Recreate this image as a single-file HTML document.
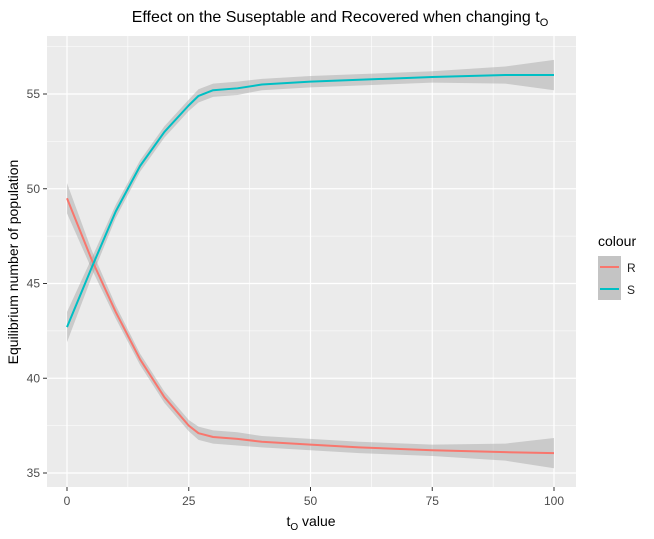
<!DOCTYPE html>
<html><head><meta charset="utf-8"><style>
body{margin:0;background:#fff;}
svg{display:block;font-family:"Liberation Sans",Arial,sans-serif;}
</style></head><body>
<svg id="chart" width="654" height="539">
<text x="340" y="22" font-size="16" text-anchor="middle" fill="#000">Effect on the Suseptable and Recovered when changing t<tspan font-size="11" dy="4">O</tspan></text>
<rect x="47" y="36" width="529" height="451" fill="#EBEBEB"/>
<g id="grid"></g><g id="ribbons"></g><g id="lines"></g><g id="axes"></g>
<text x="311" y="526" font-size="14" text-anchor="middle">t<tspan font-size="10" dy="4">O</tspan><tspan dy="-4"> value</tspan></text>
<text transform="translate(18,262) rotate(-90)" font-size="14" text-anchor="middle">Equilibrium number of population</text>
<g>
<text x="598" y="246" font-size="14">colour</text>
<g><rect x="598" y="256" width="23" height="22" fill="#C4C4C4"/><line x1="600" x2="619" y1="267" y2="267" stroke="#F8766D" stroke-width="2"/><text x="627" y="272" font-size="12" fill="#222">R</text></g>
<g><rect x="598" y="278" width="23" height="22" fill="#C4C4C4"/><line x1="600" x2="619" y1="289" y2="289" stroke="#00BFC4" stroke-width="2"/><text x="627" y="294" font-size="12" fill="#222">S</text></g>
</g>
</svg>
<script>
const xs=[0,5,10,15,20,25,27,30,35,40,50,60,75,90,100];
const sVals=[42.7,45.8,48.8,51.2,53,54.4,54.9,55.2,55.3,55.5,55.65,55.75,55.9,56,56];
const rVals=[49.5,46.3,43.5,41,39,37.5,37.1,36.9,36.8,36.65,36.5,36.35,36.2,36.1,36.05];
const seHalf=[0.8,0.5,0.35,0.3,0.3,0.3,0.35,0.35,0.35,0.3,0.3,0.3,0.3,0.45,0.8];
const xTicks=[0,25,50,75,100];
const yTicks=[35,40,45,50,55];
const X=v=>67+v*4.87, Y=v=>473-(v-35)*18.95;
const ns="http://www.w3.org/2000/svg";
function mk(t,a,p){const e=document.createElementNS(ns,t);for(const k in a)e.setAttribute(k,a[k]);p.appendChild(e);return e;}
const grid=document.getElementById('grid'),axes=document.getElementById('axes');
for(let i=0;i<xTicks.length;i++){
 if(i<xTicks.length-1){const m=(xTicks[i]+xTicks[i+1])/2;const g=mk('line',{x1:X(m),x2:X(m),y1:36,y2:487,stroke:'#fff','stroke-width':0.6},grid);}
 const g=mk('line',{x1:X(xTicks[i]),x2:X(xTicks[i]),y1:36,y2:487,stroke:'#fff','stroke-width':1.2},grid);
 mk('line',{x1:X(xTicks[i]),x2:X(xTicks[i]),y1:487,y2:491,stroke:'#333'},axes);
 const t=mk('text',{x:X(xTicks[i]),y:505,'font-size':12,fill:'#4D4D4D','text-anchor':'middle'},axes);t.textContent=xTicks[i];
 
}
for(let i=0;i<yTicks.length;i++){
 const mv=yTicks[i]-2.5;if(Y(mv)<487){const g=mk('line',{x1:47,x2:576,y1:Y(mv),y2:Y(mv),stroke:'#fff','stroke-width':0.6},grid);}
 if(i==yTicks.length-1){const g=mk('line',{x1:47,x2:576,y1:Y(57.5),y2:Y(57.5),stroke:'#fff','stroke-width':0.6},grid);}
 const g=mk('line',{x1:47,x2:576,y1:Y(yTicks[i]),y2:Y(yTicks[i]),stroke:'#fff','stroke-width':1.2},grid);
 mk('line',{x1:43,x2:47,y1:Y(yTicks[i]),y2:Y(yTicks[i]),stroke:'#333'},axes);
 const t=mk('text',{x:40,y:Y(yTicks[i])+4,'font-size':12,fill:'#4D4D4D','text-anchor':'end'},axes);t.textContent=yTicks[i];
 
}
const rib=document.getElementById('ribbons'),lines=document.getElementById('lines');
function series(vals,color,name){
 let up=xs.map((x,i)=>X(x)+','+Y(vals[i]+seHalf[i]));
 let dn=xs.map((x,i)=>X(x)+','+Y(vals[i]-seHalf[i])).reverse();
 const p=mk('polygon',{points:up.concat(dn).join(' '),fill:'#999','fill-opacity':0.4},rib);
 
 const l=mk('polyline',{points:xs.map((x,i)=>X(x)+','+Y(vals[i])).join(' '),fill:'none',stroke:color,'stroke-width':2,'stroke-linejoin':'round'},lines);
 
}
series(rVals,'#F8766D','r');
series(sVals,'#00BFC4','s');
</script>
</body></html>
